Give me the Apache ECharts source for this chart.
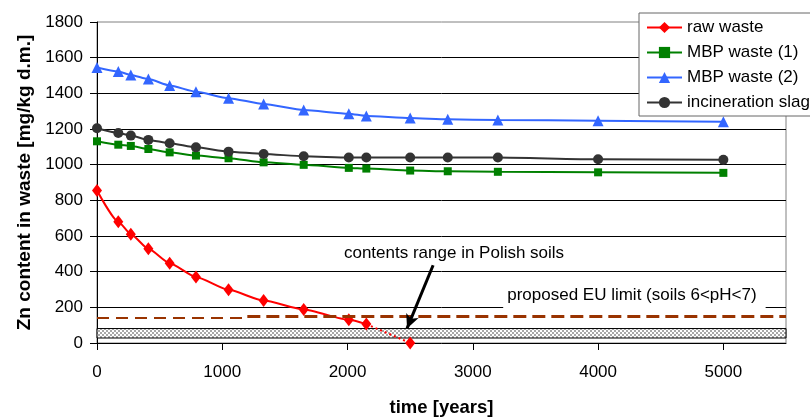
<!DOCTYPE html>
<html>
<head>
<meta charset="utf-8">
<script src="https://cdn.jsdelivr.net/npm/echarts@6/dist/echarts.min.js"></script>
<style>
  html, body { margin: 0; padding: 0; background: #fff; }
  #chart { width: 810px; height: 419px; }
</style>
</head>
<body>
<div id="chart"></div>
<script>
// Sampling times [years]
const years = [0, 170, 270, 410, 580, 790, 1050, 1330, 1650, 2010, 2150, 2500, 2800, 3200, 4000, 5000];

// Zn content [mg/kg d.m.]
const rawWaste         = [855, 680, 610, 528, 447, 370, 298, 238, 188, 130, 106, 0];
const mbpWaste1        = [1131, 1112, 1105, 1088, 1069, 1051, 1036, 1013, 999, 982, 978, 967, 963, 960, 957, 954];
const mbpWaste2        = [1545, 1522, 1503, 1480, 1444, 1409, 1373, 1340, 1306, 1286, 1273, 1262, 1254, 1251, 1246, 1240];
const incinerationSlag = [1204, 1178, 1163, 1139, 1120, 1097, 1073, 1060, 1047, 1040, 1040, 1040, 1040, 1040, 1030, 1028];

// Axis ticks
const xTicks = [0, 1000, 2000, 3000, 4000, 5000];

// Reference levels
const euLimitLeft  = 141;   // dashed limit line, left part
const euLimitRight = 148;   // dashed limit line, right part
const euLimitStep  = 1200;  // where the two parts meet [years]
const polishSoilRange = [28, 81];

// Annotation anchors (data units)
const polishLabelAt = [2850, 503];
const euLabelAt     = [4290, 268];
const arrowFrom     = [2683, 436];
const arrowTo       = [2475, 82];

const FONT = "'Liberation Sans', Arial, sans-serif";

const pairs = (xs, ys) => ys.map((v, i) => [xs[i], v]);
const plain = v => String(v);

// Fine grey checker fill for the soil range band
function checkerFill() {
  const c = document.createElement('canvas');
  c.width = 4; c.height = 4;
  const g = c.getContext('2d');
  g.fillStyle = '#ffffff'; g.fillRect(0, 0, 4, 4);
  g.fillStyle = '#a8a8a8';
  g.fillRect(0, 0, 2, 2);
  g.fillRect(2, 2, 2, 2);
  return c;
}

const rawPts = pairs(years, rawWaste);
const rawSolid = rawPts.slice(0, 11);
const rawTail = [{ value: rawPts[10], symbol: 'none' }, { value: rawPts[11] }];

const chart = echarts.init(document.getElementById('chart'), null, { renderer: 'canvas' });

chart.setOption({
  animation: false,
  textStyle: { fontFamily: FONT, color: '#000' },
  grid: {
    left: 97, right: 24, top: 22, bottom: 76,
    outerBoundsMode: 'none',
    show: true, borderColor: '#808080', borderWidth: 1
  },
  legend: {
    data: ['raw waste', 'MBP waste (1)', 'MBP waste (2)', 'incineration slag'],
    orient: 'vertical',
    left: 639, top: 13,
    padding: [6, 12, 5, 7],
    itemWidth: 35, itemHeight: 14, itemGap: 8,
    backgroundColor: '#fff',
    borderColor: '#666', borderWidth: 1,
    textStyle: { fontFamily: FONT, fontSize: 17, color: '#000', lineHeight: 17 }
  },
  xAxis: {
    type: 'value', min: 0, max: 5500,
    name: 'time [years]', nameLocation: 'middle', nameGap: 55,
    nameTextStyle: { fontFamily: FONT, fontSize: 18.5, fontWeight: 'bold', color: '#000' },
    axisLine: { lineStyle: { color: '#000', width: 1 } },
    axisTick: { customValues: xTicks, length: 7, lineStyle: { color: '#000' } },
    axisLabel: { customValues: xTicks, formatter: plain, fontSize: 17, color: '#000', margin: 21, fontFamily: FONT },
    splitLine: { show: false }
  },
  yAxis: {
    type: 'value', min: 0, max: 1800, interval: 200,
    name: 'Zn content in waste [mg/kg d.m.]', nameLocation: 'middle', nameGap: 55,
    nameTextStyle: { fontFamily: FONT, fontSize: 19, fontWeight: 'bold', color: '#000' },
    axisLine: { show: true, lineStyle: { color: '#000', width: 1 } },
    axisTick: { show: true, length: 7, lineStyle: { color: '#000' } },
    axisLabel: { formatter: plain, fontSize: 17, color: '#000', margin: 14, fontFamily: FONT },
    splitLine: { show: true, showMaxLine: false, showMinLine: false, lineStyle: { color: '#000', width: 1 } }
  },
  series: [
    {
      name: 'annotations', type: 'line', data: [], silent: true, z: 1,
      markArea: {
        silent: true,
        itemStyle: { color: { image: checkerFill(), repeat: 'repeat' }, borderColor: '#000', borderWidth: 1 },
        label: { show: false },
        data: [[{ yAxis: polishSoilRange[0] }, { yAxis: polishSoilRange[1] }]]
      },
      markLine: {
        silent: true, symbol: ['none', 'none'],
        label: { show: false },
        data: [
          [{ coord: [0, euLimitLeft], lineStyle: { color: '#993300', width: 2, type: [12, 7] } },
           { coord: [euLimitStep, euLimitLeft] }],
          [{ coord: [euLimitStep, euLimitRight], lineStyle: { color: '#993300', width: 3, type: [13, 6] } },
           { coord: [5500, euLimitRight] }],
          [{ coord: arrowFrom, symbol: 'none', lineStyle: { color: '#000', width: 3, type: 'solid' } },
           { coord: arrowTo, symbol: 'arrow', symbolSize: [10, 14] }]
        ]
      },
      markPoint: {
        silent: true, symbol: 'rect', symbolSize: 1,
        itemStyle: { color: 'rgba(0,0,0,0)' },
        label: { show: true, position: 'inside', formatter: '{b}', fontFamily: FONT, fontSize: 17, color: '#000' },
        data: [
          { name: 'contents range in Polish soils', coord: polishLabelAt },
          { name: 'proposed EU limit (soils 6<pH<7)', coord: euLabelAt,
            label: { backgroundColor: '#fff', padding: [6, 9, 7, 4] } }
        ]
      }
    },
    {
      name: 'raw waste', type: 'line', z: 3,
      data: rawSolid,
      symbol: 'diamond', symbolSize: [10, 13],
      smooth: 0.2, smoothMonotone: 'x',
      itemStyle: { color: '#ff0000' },
      lineStyle: { color: '#ff0000', width: 2 }
    },
    {
      name: 'raw waste', type: 'line', z: 3,
      data: rawTail,
      symbol: 'diamond', symbolSize: [10, 13],
      itemStyle: { color: '#ff0000' },
      lineStyle: { color: '#ff0000', width: 2, type: [2, 3] }
    },
    {
      name: 'MBP waste (1)', type: 'line', z: 3,
      data: pairs(years, mbpWaste1),
      symbol: 'rect', symbolSize: 8,
      smooth: 0.2, smoothMonotone: 'x',
      itemStyle: { color: '#008000' },
      lineStyle: { color: '#008000', width: 2 }
    },
    {
      name: 'MBP waste (2)', type: 'line', z: 3,
      data: pairs(years, mbpWaste2),
      symbol: 'triangle', symbolSize: 11,
      smooth: 0.2, smoothMonotone: 'x',
      itemStyle: { color: '#3366ff' },
      lineStyle: { color: '#3366ff', width: 2 }
    },
    {
      name: 'incineration slag', type: 'line', z: 3,
      data: pairs(years, incinerationSlag),
      symbol: 'circle', symbolSize: 10,
      smooth: 0.2, smoothMonotone: 'x',
      itemStyle: { color: '#333333' },
      lineStyle: { color: '#333333', width: 2 }
    }
  ]
});
</script>
</body>
</html>
